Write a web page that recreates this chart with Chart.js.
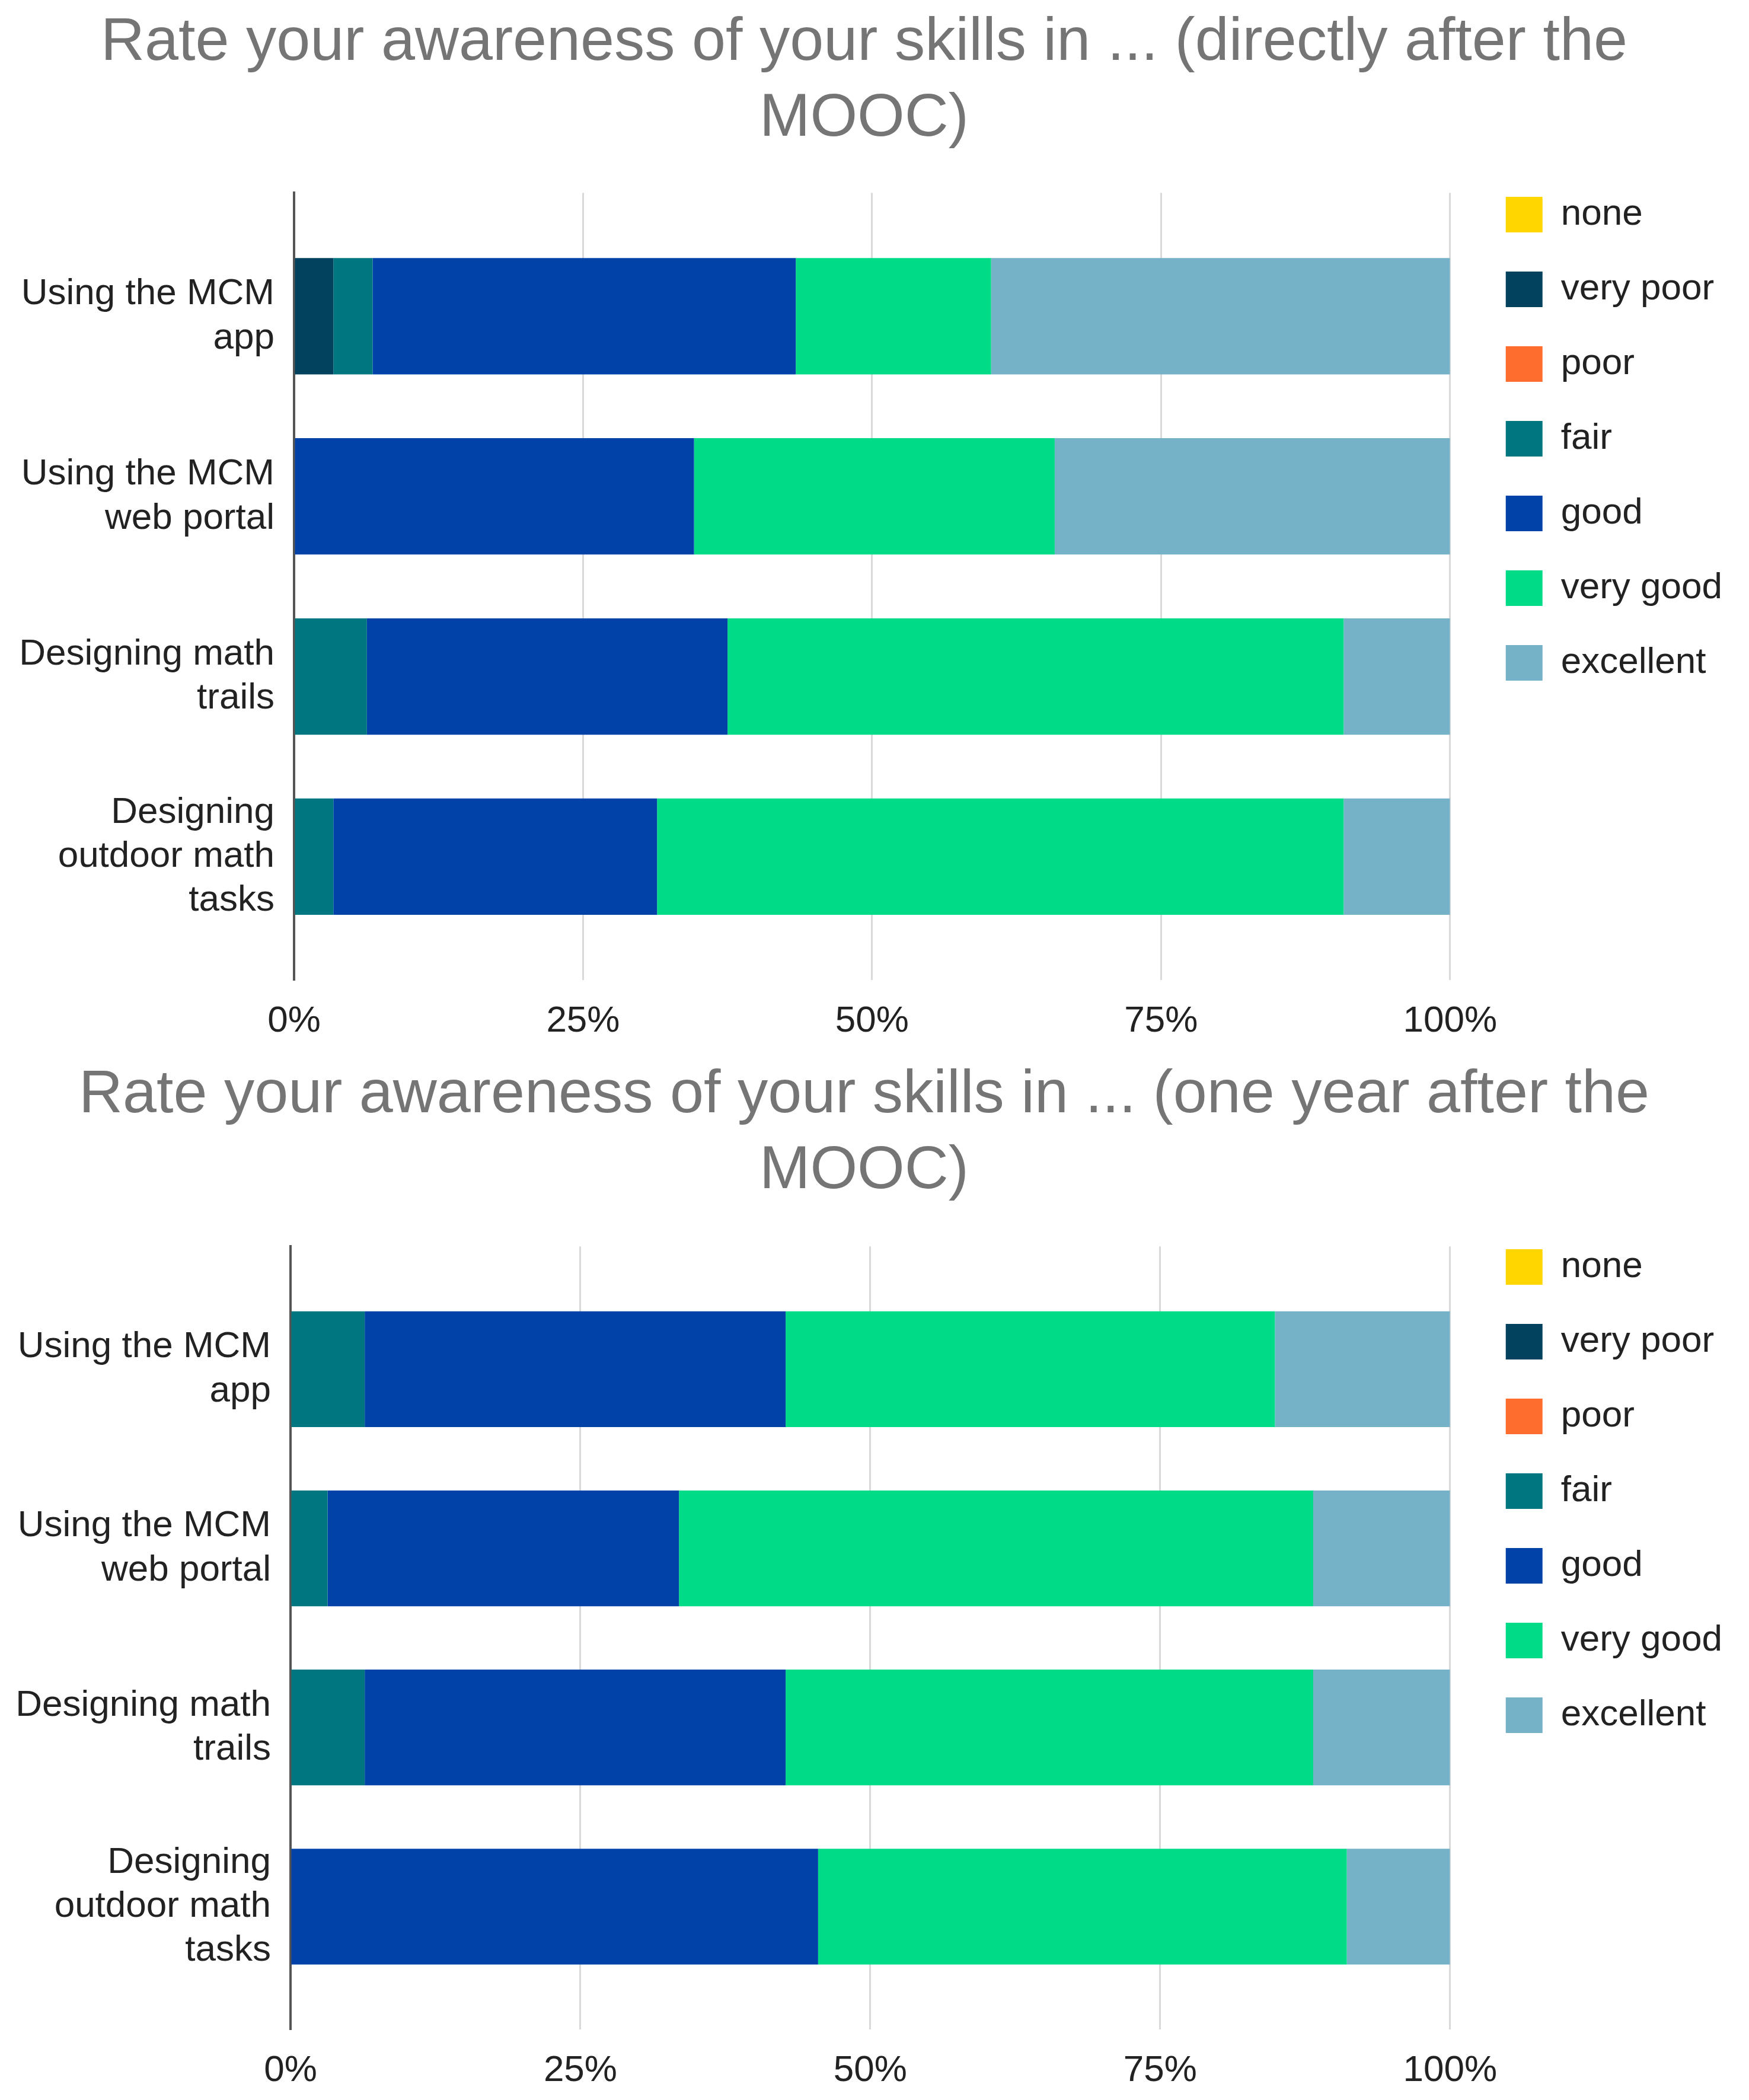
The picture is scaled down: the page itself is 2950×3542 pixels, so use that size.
<!DOCTYPE html>
<html>
<head>
<meta charset="utf-8">
<script src="https://cdn.jsdelivr.net/npm/chart.js@4.4.1/dist/chart.umd.min.js"></script>
<style>
  html, body { margin: 0; padding: 0; background: #ffffff; }
  .chart_box { position: absolute; left: 0; width: 2950px; height: 1767px; }
</style>
</head>
<body>
<div class="chart_box" style="top:0px"><canvas id="after_mooc_chart"></canvas></div>
<div class="chart_box" style="top:1775px"><canvas id="year_later_chart"></canvas></div>
<script>
// categories (rows) and answer levels
const categories = [
    ["Using the MCM", "app"],
    ["Using the MCM", "web portal"],
    ["Designing math", "trails"],
    ["Designing", "outdoor math", "tasks"]
];
const levels = ["none", "very poor", "poor", "fair", "good", "very good", "excellent"];
const percentTicks = [0, 25, 50, 75, 100];

// directly after the MOOC, % of answers per row
const after_none      = [0, 0, 0, 0];
const after_veryPoor  = [3.4, 0, 0, 0];
const after_poor      = [0, 0, 0, 0];
const after_fair      = [3.4, 0, 6.3, 3.4];
const after_good      = [36.6, 34.6, 31.2, 28.0];
const after_veryGood  = [16.9, 31.2, 53.3, 59.4];
const after_excellent = [39.7, 34.2, 9.2, 9.2];

// one year after the MOOC
const year_none      = [0, 0, 0, 0];
const year_veryPoor  = [0, 0, 0, 0];
const year_poor      = [0, 0, 0, 0];
const year_fair      = [6.4, 3.2, 6.4, 0];
const year_good      = [36.3, 30.3, 36.3, 45.5];
const year_veryGood  = [42.2, 54.7, 45.5, 45.6];
const year_excellent = [15.1, 11.8, 11.8, 8.9];

const levelColors = ["#ffd600", "#02425e", "#ff6d2e", "#007780", "#0042a8", "#00db87", "#75b2c7"];

Chart.defaults.font.family = "'Liberation Sans', Arial, sans-serif";
Chart.defaults.color = "#222222";

function awareness_chart(canvasId, titleLines, series, axisLeft, titleBottom, xAxisHeight) {
    let rowIndex = categories.map(function (c, i) { return i; });
    let datasets = [];
    for (let i = 0; i < levels.length; i++) {
        datasets.push({
            label: levels[i],
            data: series[i],
            backgroundColor: levelColors[i],
            borderWidth: 0,
            barPercentage: 0.646,
            categoryPercentage: 1
        });
    }

    new Chart(canvasId, {
        type: "bar",
        data: {
            labels: rowIndex,
            datasets: datasets
        },
        options: {
            indexAxis: "y",
            responsive: true,
            maintainAspectRatio: false,
            animation: false,
            layout: { padding: { left: 0, right: 35, top: 0, bottom: 0 } },
            plugins: {
                tooltip: { enabled: false },
                title: {
                    display: true,
                    text: titleLines,
                    color: "#757575",
                    font: { size: 102.5, weight: "normal", lineHeight: 1.25 },
                    padding: { top: 9, bottom: titleBottom + 2 }
                },
                legend: {
                    position: "right",
                    align: "start",
                    title: { display: true, text: " ", font: { size: 10 }, padding: { top: 255, bottom: 0 } },
                    labels: {
                        boxWidth: 62,
                        boxHeight: 60,
                        padding: 64,
                        color: "#222222",
                        font: { size: 62 }
                    }
                }
            },
            scales: {
                x: {
                    stacked: true,
                    min: 0,
                    max: 100,
                    border: { display: false },
                    grid: { color: "#d9d9d9", lineWidth: 3, drawTicks: false },
                    afterBuildTicks: function (scale) {
                        scale.ticks = percentTicks.map(function (v) { return { value: v }; });
                    },
                    ticks: {
                        padding: 33,
                        font: { size: 62 },
                        color: "#222222",
                        callback: function (v) { return v + "%"; }
                    },
                    afterFit: function (scale) { scale.height = xAxisHeight; }
                },
                y: {
                    type: "linear",
                    stacked: true,
                    reverse: true,
                    offset: false,
                    min: -0.685,
                    max: categories.length - 1 + 0.685,
                    grid: { display: false, drawTicks: false, offset: false },
                    border: { display: true, color: "#555555", width: 4 },
                    afterBuildTicks: function (scale) {
                        scale.ticks = rowIndex.map(function (v) { return { value: v }; });
                    },
                    ticks: {
                        padding: 33,
                        font: { size: 62, lineHeight: 1.2 },
                        color: "#222222",
                        callback: function (v) { return categories[v]; }
                    },
                    afterFit: function (scale) { scale.width = axisLeft; }
                },
                yGap: {
                    type: "linear",
                    axis: "y",
                    position: "right",
                    display: true,
                    offset: false,
                    grid: { display: false, drawTicks: false },
                    border: { display: false },
                    ticks: { display: false },
                    afterFit: function (scale) { scale.width = 30; }
                }
            }
        }
    });
}

awareness_chart("after_mooc_chart",
    ["Rate your awareness of your skills in ... (directly after the", "MOOC)"],
    [after_none, after_veryPoor, after_poor, after_fair, after_good, after_veryGood, after_excellent],
    496, 58, 114);

awareness_chart("year_later_chart",
    ["Rate your awareness of your skills in ... (one year after the", "MOOC)"],
    [year_none, year_veryPoor, year_poor, year_fair, year_good, year_veryGood, year_excellent],
    490, 60, 119);
</script>
</body>
</html>
